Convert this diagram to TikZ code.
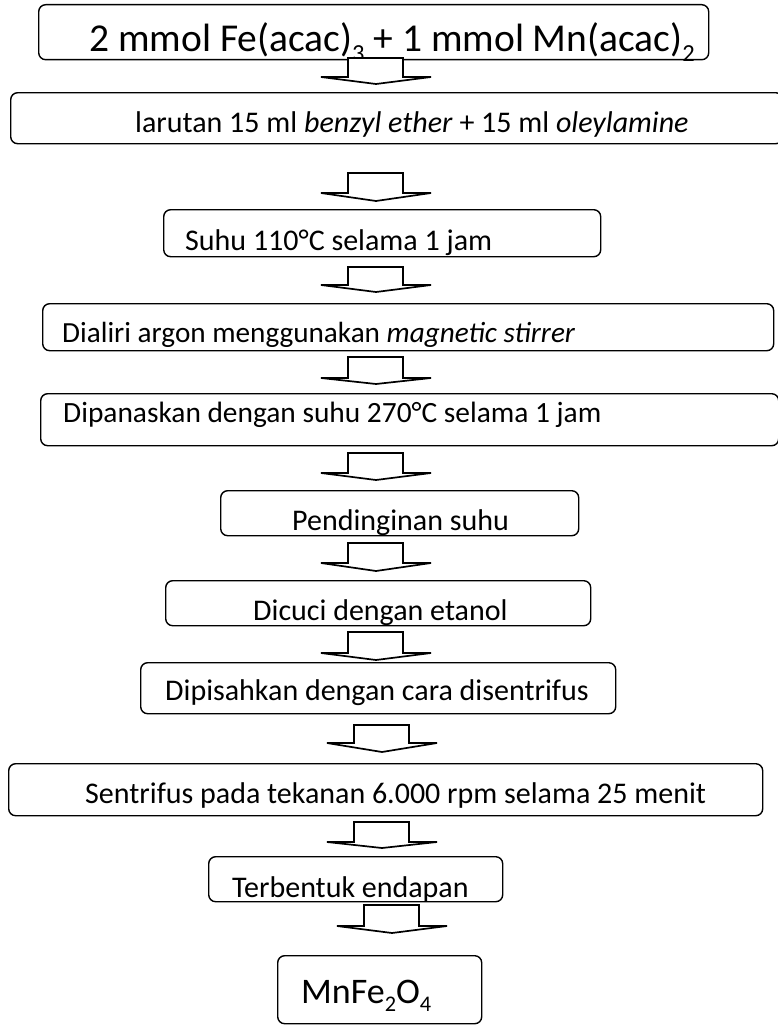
\documentclass[tikz,border=0pt]{standalone}
\usepackage{fontspec}
\setmainfont{Carlito}
\newcommand\mysub[1]{\raisebox{-0.24em}{\fontsize{0.62em}{0.62em}\selectfont #1}}
\begin{document}
\begin{tikzpicture}[x=1pt,y=-1pt,
  box/.style={draw, line width=1.4pt, rounded corners=7pt, anchor=north west, inner sep=0pt},
  txt/.style={anchor=base west, inner sep=0pt, font=\fontsize{30}{36}\selectfont},
  arr/.style={draw, line width=1.7pt, line join=miter, fill=white}]
\useasboundingbox (0,0) rectangle (777,1025);
\newcommand\boxat[5]{\node[box, minimum width=#4-#2, minimum height=#5-#3] (#1) at (#2,#3) {};}
\newcommand\barrow[4]{\draw[arr] (#1,#2) -- (#1,#3) -- (#1-27,#3) -- (#1+28,#4) -- (#1+83,#3) -- (#1+55,#3) -- (#1+55,#2) -- cycle;}
% boxes
\boxat{b1}{38}{4}{708}{59}
\boxat{b2}{10}{92}{782}{143}
\boxat{b3}{163}{209}{600}{256}
\boxat{b4}{42}{303}{773}{350}
\boxat{b5}{40}{393}{778}{445}
\boxat{b6}{220}{490}{578}{535}
\boxat{b7}{165}{580}{590}{625}
\boxat{b8}{140}{662}{615}{713}
\boxat{b9}{8}{763}{762}{815}
\boxat{b10}{208}{856}{502}{901}
\boxat{b11}{277}{955}{481}{1023}
% texts
\node[txt, font=\fontsize{39.5}{44}\selectfont] (t1) at (89,52) {2 mmol Fe(acac)\mysub{3} + 1 mmol Mn(acac)\mysub{2}};
\node[txt] (t2) at (135,132) {larutan 15 ml \textit{benzyl ether} + 15 ml \textit{oleylamine}};
\node[txt] (t3) at (185,250) {Suhu 110°C selama 1 jam};
\node[txt, font=\fontsize{29.2}{36}\selectfont] (t4) at (62,342) {Dialiri argon menggunakan \textit{magnetic stirrer}};
\node[txt, font=\fontsize{29.4}{36}\selectfont] (t5) at (63,422) {Dipanaskan dengan suhu 270°C selama 1 jam};
\node[txt] (t6) at (292,530) {Pendinginan suhu};
\node[txt] (t7) at (253,620) {Dicuci dengan etanol};
\node[txt] (t8) at (165,700) {Dipisahkan dengan cara disentrifus};
\node[txt] (t9) at (85,803) {Sentrifus pada tekanan 6.000 rpm selama 25 menit};
\node[txt] (t10) at (232,897) {Terbentuk endapan};
\node[txt, font=\fontsize{36}{40}\selectfont] (t11) at (301,1003) {MnFe\mysub{2}O\mysub{4}};
% block arrows
\barrow{348}{58}{77}{84}
\barrow{348}{173}{193}{201}
\barrow{348}{267}{285}{292}
\barrow{348}{357}{378}{384}
\barrow{348}{453}{473}{480}
\barrow{348}{543}{563}{571}
\barrow{348}{632}{653}{660}
\barrow{354}{725}{743}{752}
\barrow{354}{822}{842}{848}
\barrow{364}{905}{926}{933}
\end{tikzpicture}
\end{document}
